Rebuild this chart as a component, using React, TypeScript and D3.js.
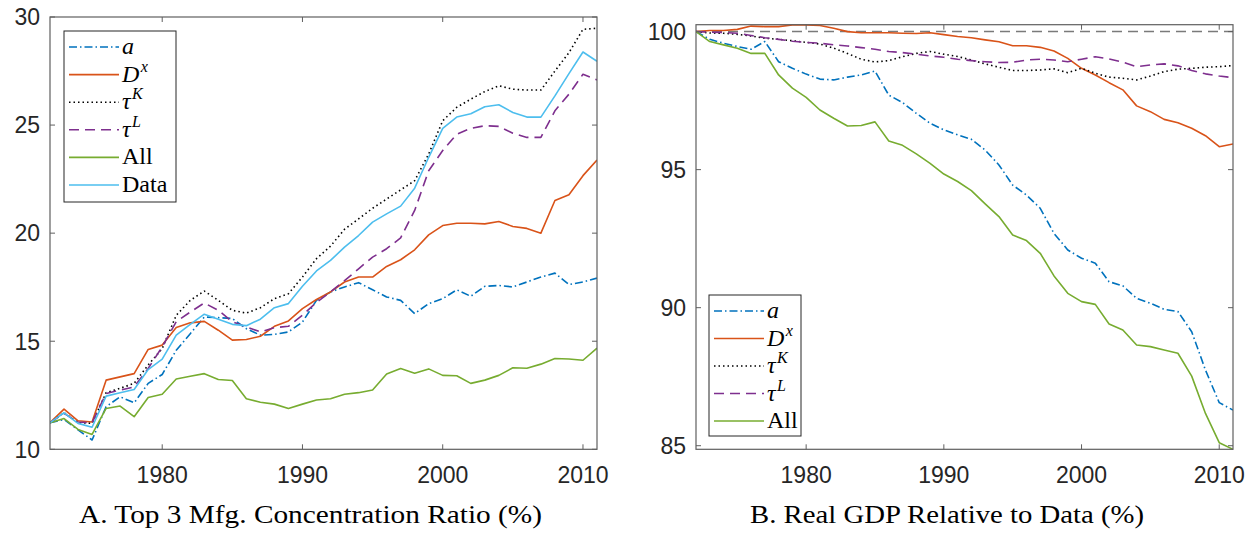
import * as d3 from 'd3'
import React from 'react'

// years on the x axis (1972-2011)
const years = [
    1972, 1973, 1974, 1975, 1976, 1977, 1978, 1979, 1980, 1981,
    1982, 1983, 1984, 1985, 1986, 1987, 1988, 1989, 1990, 1991,
    1992, 1993, 1994, 1995, 1996, 1997, 1998, 1999, 2000, 2001,
    2002, 2003, 2004, 2005, 2006, 2007, 2008, 2009, 2010, 2011,
]

// Panel A: top 3 mfg. concentration ratio (%)
const concA = [
    11.23, 11.38, 10.9, 10.43, 11.97, 12.43, 12.15, 13.05, 13.46, 14.58,
    15.35, 16.12, 16.09, 16.05, 15.58, 15.28, 15.32, 15.43, 15.89, 16.89,
    17.28, 17.51, 17.71, 17.38, 17.05, 16.89, 16.28, 16.74, 16.97, 17.38,
    17.08, 17.54, 17.58, 17.51, 17.74, 17.97, 18.15, 17.62, 17.74, 17.92,
]
const concDx = [
    11.23, 11.86, 11.32, 11.26, 13.2, 13.35, 13.5, 14.62, 14.82, 15.63,
    15.85, 15.92, 15.51, 15.05, 15.08, 15.23, 15.69, 15.94, 16.51, 16.93,
    17.28, 17.74, 17.97, 17.97, 18.46, 18.77, 19.23, 19.92, 20.35, 20.46,
    20.46, 20.43, 20.54, 20.31, 20.22, 20.0, 21.51, 21.78, 22.66, 23.38,
]
const concTauK = [
    11.23, 11.69, 11.23, 11.2, 12.62, 12.82, 13.05, 13.9, 14.66, 16.2,
    16.89, 17.32, 16.89, 16.43, 16.3, 16.55, 16.97, 17.2, 17.97, 18.82,
    19.4, 20.18, 20.66, 21.15, 21.58, 22.0, 22.43, 23.66, 25.2, 25.82,
    26.2, 26.55, 26.82, 26.66, 26.62, 26.62, 27.5, 28.35, 29.43, 29.48,
]
const concTauL = [
    11.23, 11.66, 11.26, 11.23, 12.58, 12.74, 12.89, 13.74, 14.74, 15.9,
    16.35, 16.77, 16.43, 15.9, 15.66, 15.43, 15.63, 15.69, 16.2, 16.8,
    17.28, 17.8, 18.35, 18.89, 19.28, 19.78, 21.05, 22.89, 23.82, 24.58,
    24.85, 24.97, 24.94, 24.62, 24.43, 24.43, 25.66, 26.43, 27.35, 27.09,
]
const concAll = [
    11.23, 11.42, 10.92, 10.69, 11.89, 12.0, 11.51, 12.4, 12.55, 13.25,
    13.38, 13.5, 13.23, 13.18, 12.34, 12.18, 12.09, 11.89, 12.09, 12.28,
    12.34, 12.55, 12.62, 12.74, 13.48, 13.74, 13.52, 13.72, 13.42, 13.4,
    13.05, 13.2, 13.42, 13.77, 13.75, 13.94, 14.2, 14.18, 14.12, 14.68,
]
const concData = [
    11.23, 11.69, 11.2, 11.02, 12.46, 12.62, 12.77, 13.69, 14.17, 15.28,
    15.78, 16.25, 16.02, 15.78, 15.72, 16.02, 16.55, 16.74, 17.54, 18.25,
    18.74, 19.35, 19.89, 20.51, 20.89, 21.25, 22.08, 23.51, 24.85, 25.37,
    25.52, 25.85, 25.94, 25.58, 25.37, 25.37, 26.35, 27.38, 28.38, 27.95,
]

// Panel B: real GDP relative to data (%)
const gdpA = [
    100, 99.72, 99.58, 99.46, 99.36, 99.64, 98.91, 98.67, 98.46, 98.28,
    98.25, 98.35, 98.43, 98.57, 97.7, 97.43, 97.04, 96.68, 96.44, 96.26,
    96.1, 95.71, 95.17, 94.44, 94.08, 93.6, 92.69, 92.09, 91.79, 91.61,
    90.94, 90.79, 90.34, 90.16, 89.94, 89.86, 89.13, 87.74, 86.56, 86.29,
]
const gdpDx = [
    100, 100.04, 100.04, 100.08, 100.2, 100.18, 100.18, 100.24, 100.24, 100.22,
    100.12, 100.0, 99.96, 99.96, 99.96, 99.94, 99.93, 99.96, 99.89, 99.82,
    99.78, 99.7, 99.63, 99.49, 99.49, 99.43, 99.3, 99.03, 98.67, 98.43,
    98.15, 97.89, 97.31, 97.1, 96.82, 96.7, 96.5, 96.23, 95.83, 95.93,
]
const gdpTauK = [
    100, 99.95, 99.94, 99.9, 99.84, 99.76, 99.72, 99.67, 99.61, 99.55,
    99.4, 99.21, 99.0, 98.9, 98.95, 99.09, 99.21, 99.28, 99.18, 99.1,
    98.97, 98.83, 98.71, 98.59, 98.59, 98.61, 98.65, 98.51, 98.67, 98.49,
    98.35, 98.31, 98.25, 98.39, 98.55, 98.64, 98.67, 98.71, 98.73, 98.77,
]
const gdpTauL = [
    100, 99.98, 99.97, 99.94, 99.86, 99.78, 99.72, 99.65, 99.61, 99.58,
    99.52, 99.48, 99.42, 99.36, 99.28, 99.24, 99.18, 99.12, 99.07, 99.0,
    98.95, 98.91, 98.88, 98.89, 98.97, 99.0, 98.97, 98.91, 99.0, 99.09,
    99.01, 98.89, 98.73, 98.79, 98.83, 98.76, 98.59, 98.47, 98.39, 98.33,
]
const gdpAll = [
    100, 99.64, 99.52, 99.4, 99.21, 99.21, 98.43, 97.95, 97.62, 97.16,
    96.86, 96.58, 96.6, 96.73, 96.04, 95.88, 95.57, 95.23, 94.84, 94.57,
    94.24, 93.76, 93.3, 92.63, 92.43, 91.97, 91.15, 90.52, 90.22, 90.12,
    89.41, 89.19, 88.65, 88.59, 88.47, 88.35, 87.52, 86.17, 85.11, 84.87,
]

const xTicks = [1980, 1990, 2000, 2010]
const yTicksA = [10, 15, 20, 25, 30]
const yTicksB = [85, 90, 95, 100]

type Key = 'a' | 'Dx' | 'tauK' | 'tauL' | 'All' | 'Data'

const styles: { [k in Key]: { color: string; dash: string } } = {
    a: { color: '#0072BD', dash: '8,3,1.5,3' },
    Dx: { color: '#D95319', dash: '' },
    tauK: { color: '#000000', dash: '1.5,3' },
    tauL: { color: '#7E2F8E', dash: '10,6' },
    All: { color: '#77AC30', dash: '' },
    Data: { color: '#4DBEEE', dash: '' },
}

const seriesA: { key: Key; values: number[] }[] = [
    { key: 'a', values: concA },
    { key: 'Dx', values: concDx },
    { key: 'tauK', values: concTauK },
    { key: 'tauL', values: concTauL },
    { key: 'All', values: concAll },
    { key: 'Data', values: concData },
]
const seriesB: { key: Key; values: number[] }[] = [
    { key: 'a', values: gdpA },
    { key: 'Dx', values: gdpDx },
    { key: 'tauK', values: gdpTauK },
    { key: 'tauL', values: gdpTauL },
    { key: 'All', values: gdpAll },
]

const axisColor = '#5f5f5f'
const labelFont = '"Liberation Sans", Arial, sans-serif'
const serif = '"Liberation Serif", "Times New Roman", serif'

function LegendLabel({ k, x, y }: { k: Key; x: number; y: number }) {
    const sup = (main: string, s: string) => (
        <text x={x} y={y} fontFamily={serif} fontSize={24} fontStyle="italic" fill="#000">
            {main}
            <tspan fontSize={16} dx={1.5} dy={-10}>{s}</tspan>
        </text>
    )
    if (k === 'a') {
        return <text x={x} y={y} fontFamily={serif} fontSize={24} fontStyle="italic">a</text>
    }
    if (k === 'Dx') return sup('D', 'x')
    if (k === 'tauK') return sup('τ', 'K')
    if (k === 'tauL') return sup('τ', 'L')
    return <text x={x} y={y} fontFamily={serif} fontSize={24}>{k}</text>
}

interface PanelProps {
    id: string
    x0: number
    x1: number
    y0: number
    y1: number
    yDomain: [number, number]
    yTicks: number[]
    series: { key: Key; values: number[] }[]
    legend: { x: number; y: number; w: number; h: number; first: number; step: number }
    refLine?: number
    caption: string
    captionX: number
    captionW: number
}

function Panel(p: PanelProps) {
    const x = d3.scaleLinear().domain([1972, 2011]).range([p.x0, p.x1])
    const y = d3.scaleLinear().domain(p.yDomain).range([p.y1, p.y0])
    const line = d3
        .line<number>()
        .x((_, i) => x(years[i]))
        .y((d) => y(d))
    const tick = 5

    return (
        <g>
            <defs>
                <clipPath id={`clip-${p.id}`}>
                    <rect x={p.x0} y={p.y0 - 1} width={p.x1 - p.x0} height={p.y1 - p.y0 + 2} />
                </clipPath>
            </defs>
            <g clipPath={`url(#clip-${p.id})`}>
                {p.refLine !== undefined && (
                    <line
                        x1={p.x0}
                        x2={p.x1}
                        y1={y(p.refLine)}
                        y2={y(p.refLine)}
                        stroke="#7a7a7a"
                        strokeWidth={1.5}
                        strokeDasharray="10,6"
                    />
                )}
                {p.series.map((s) => (
                    <path
                        key={s.key}
                        d={line(s.values) || ''}
                        fill="none"
                        stroke={styles[s.key].color}
                        strokeWidth={1.6}
                        strokeDasharray={styles[s.key].dash}
                        strokeLinejoin="round"
                    />
                ))}
            </g>

            {/* box and ticks */}
            <rect
                x={p.x0}
                y={p.y0}
                width={p.x1 - p.x0}
                height={p.y1 - p.y0}
                fill="none"
                stroke={axisColor}
                strokeWidth={1.2}
            />
            {xTicks.map((t) => (
                <g key={`x${t}`}>
                    <line x1={x(t)} x2={x(t)} y1={p.y1} y2={p.y1 - tick} stroke={axisColor} />
                    <line x1={x(t)} x2={x(t)} y1={p.y0} y2={p.y0 + tick} stroke={axisColor} />
                    <text
                        x={x(t)}
                        y={483}
                        textAnchor="middle"
                        fontFamily={labelFont}
                        fontSize={23}
                        fill="#262626"
                    >
                        {t}
                    </text>
                </g>
            ))}
            {p.yTicks.map((t) => (
                <g key={`y${t}`}>
                    <line x1={p.x0} x2={p.x0 + tick} y1={y(t)} y2={y(t)} stroke={axisColor} />
                    <line x1={p.x1} x2={p.x1 - tick} y1={y(t)} y2={y(t)} stroke={axisColor} />
                    <text
                        x={p.x0 - 10}
                        y={y(t)}
                        dy="0.36em"
                        textAnchor="end"
                        fontFamily={labelFont}
                        fontSize={23}
                        fill="#262626"
                    >
                        {t}
                    </text>
                </g>
            ))}

            {/* legend */}
            <rect
                x={p.legend.x}
                y={p.legend.y}
                width={p.legend.w}
                height={p.legend.h}
                fill="#fff"
                stroke="#262626"
                strokeWidth={1}
            />
            {p.series.map((s, i) => {
                const ly = p.legend.first + i * p.legend.step
                return (
                    <g key={`lg${s.key}`}>
                        <line
                            x1={p.legend.x + 5}
                            x2={p.legend.x + 55}
                            y1={ly}
                            y2={ly}
                            stroke={styles[s.key].color}
                            strokeWidth={1.6}
                            strokeDasharray={styles[s.key].dash}
                        />
                        <LegendLabel k={s.key} x={p.legend.x + 58} y={ly + 7} />
                    </g>
                )
            })}

            <text
                x={p.captionX}
                y={523}
                fontFamily={serif}
                fontSize={25}
                textLength={p.captionW}
                lengthAdjust="spacingAndGlyphs"
                fill="#000"
            >
                {p.caption}
            </text>
        </g>
    )
}

export default function App() {
    return (
        <svg
            width={1255}
            height={533}
            viewBox="0 0 1255 533"
            style={{ position: 'absolute', left: 0, top: 0, background: '#fff' }}
        >
            <Panel
                id="a"
                x0={50}
                x1={597}
                y0={17}
                y1={449.3}
                yDomain={[10, 30]}
                yTicks={yTicksA}
                series={seriesA}
                legend={{ x: 64, y: 31, w: 112, h: 171, first: 47, step: 27.6 }}
                caption="A. Top 3 Mfg. Concentration Ratio (%)"
                captionX={79}
                captionW={463}
            />
            <Panel
                id="b"
                x0={696}
                x1={1233}
                y0={24.7}
                y1={449.3}
                yDomain={[84.87, 100.25]}
                yTicks={yTicksB}
                series={seriesB}
                legend={{ x: 709, y: 295, w: 92, h: 141, first: 311, step: 27.5 }}
                refLine={100}
                caption="B. Real GDP Relative to Data (%)"
                captionX={750}
                captionW={394}
            />
        </svg>
    )
}
